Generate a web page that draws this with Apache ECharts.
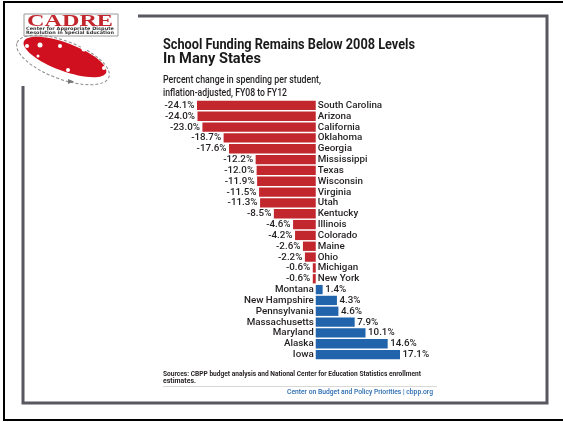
<!DOCTYPE html>
<html><head><meta charset="utf-8">
<script src="https://cdn.jsdelivr.net/npm/echarts@6/dist/echarts.min.js"></script>
<style>html,body{margin:0;padding:0;background:#fff}#c{width:563px;height:422px}</style>
</head><body><div id="c"></div>
<script>
var states = ["South Carolina","Arizona","California","Oklahoma","Georgia","Mississippi","Texas","Wisconsin","Virginia","Utah","Kentucky","Illinois","Colorado","Maine","Ohio","Michigan","New York","Montana","New Hampshire","Pennsylvania","Massachusetts","Maryland","Alaska","Iowa"];
var values = [-24.1,-24.0,-23.0,-18.7,-17.6,-12.2,-12.0,-11.9,-11.5,-11.3,-8.5,-4.6,-4.2,-2.6,-2.2,-0.6,-0.6,1.4,4.3,4.6,7.9,10.1,14.6,17.1];
var titleLines = ["School Funding Remains Below 2008 Levels","In Many States"];
var subtitleLines = ["Percent change in spending per student,","inflation-adjusted, FY08 to FY12"];
var sourceLines = ["Sources: CBPP budget analysis and National Center for Education Statistics enrollment","estimates."];
var creditText = "Center on Budget and Policy Priorities | cbpp.org";

var RED = "#c1272d", BLUE = "#2164ab";
var FAM = "Roboto, 'Liberation Sans', sans-serif";
var LABEL_SIZE = 9.8;

var ctx = document.createElement('canvas').getContext('2d');
function widthOf(text, font){ ctx.font = font; return ctx.measureText(text).width; }

function fitText(text, x, y, font, targetW, color, align){
  var s = targetW / widthOf(text, font);
  return {type:'text', x:x, y:y, scaleX:s, scaleY:1,
    style:{x:0, y:0, text:text, fill:color, font:font, align:align||'left', verticalAlign:'middle'}};
}

function fmt(v){ return v.toFixed(1) + "%"; }

var barData = values.map(function(v){
  return {value:v, itemStyle:{color: v<0?RED:BLUE}, label:{position: v<0?'left':'right'}};
});
var nameData = values.map(function(v){
  return {value:v, label:{position: v<0?'right':'left'}};
});

var chart = echarts.init(document.getElementById('c'), null, {renderer:'canvas'});
chart.setOption({
  animation:false,
  backgroundColor:'#fff',
  grid:{left:197, width:203, top:100, height:260, containLabel:false},
  xAxis:{type:'value', min:-24.1, max:17.1, show:false},
  yAxis:{type:'category', data:states, inverse:true, show:false},
  series:[
    {type:'bar', data:barData, barCategoryGap:'14%', barGap:'-100%',
     label:{show:true, distance:2.5, fontFamily:FAM, fontWeight:500, fontSize:LABEL_SIZE, color:'#231f20',
       formatter:function(p){return fmt(p.value);}}},
    {type:'bar', data:nameData, barCategoryGap:'14%', barGap:'-100%', silent:true,
     itemStyle:{color:'rgba(0,0,0,0)'},
     label:{show:true, distance:2, fontFamily:FAM, fontWeight:500, fontSize:LABEL_SIZE, color:'#231f20',
       formatter:function(p){return p.name;}}}
  ],
  graphic:[
    {type:'rect', z:-10, shape:{x:4,y:2,width:620,height:418}, style:{fill:'none',stroke:'#000',lineWidth:2}},
    {type:'rect', z:-9, shape:{x:23,y:16,width:524,height:387}, style:{fill:'none',stroke:'#59575f',lineWidth:3}},
    {type:'rect', z:-8, shape:{x:10,y:8,width:128,height:78}, style:{fill:'#fff'}},
    // logo
    {type:'rect', shape:{x:24,y:14,width:94,height:22}, style:{fill:'#fff',stroke:'#9a9a9a',lineWidth:1}},
    fitText('CADRE', 70, 21.5, "bold 16px 'Liberation Serif',serif", 86, RED, 'center'),
    fitText('Center for Appropriate Dispute', 70, 29, "bold 4.5px 'DejaVu Sans',sans-serif", 88, '#333', 'center'),
    fitText('Resolution in Special Education', 70, 33, "bold 4.5px 'DejaVu Sans',sans-serif", 88, '#333', 'center'),
    {type:'ellipse', shape:{cx:63,cy:60,rx:49,ry:19}, rotation:-0.36, originX:63, originY:60, style:{fill:'none',stroke:'#8a8a8a',lineWidth:1,lineDash:[3,2]}},
    {type:'ellipse', shape:{cx:65,cy:57,rx:44,ry:14}, rotation:-0.36, originX:65, originY:57, style:{fill:'#d0101e'}},
    {type:'circle', shape:{cx:40,cy:45,r:2.5}, style:{fill:'#fff'}},
    {type:'circle', shape:{cx:27,cy:46,r:2}, style:{fill:'#fff'}},
    {type:'circle', shape:{cx:60,cy:46,r:2}, style:{fill:'#fff'}},
    {type:'circle', shape:{cx:84,cy:49,r:2.5}, style:{fill:'#fff'}},
    {type:'circle', shape:{cx:38,cy:56,r:1.5}, style:{fill:'#fff'}},
    {type:'circle', shape:{cx:68,cy:70,r:2}, style:{fill:'#fff'}},
    {type:'circle', shape:{cx:104,cy:68,r:2}, style:{fill:'#fff'}},
    {type:'polygon', shape:{points:[[68,79],[74,81.5],[68,84]]}, style:{fill:'#777'}},
    // titles
    fitText(titleLines[0], 163, 45, "bold 15px " + FAM, 252, '#1a1a1a'),
    fitText(titleLines[1], 163, 59, "bold 15px " + FAM, 98, '#1a1a1a'),
    fitText(subtitleLines[0], 163, 80, "500 11.5px " + FAM, 158, '#231f20'),
    fitText(subtitleLines[1], 163, 93, "500 11.5px " + FAM, 124, '#231f20'),
    // footer
    fitText(sourceLines[0], 163, 374, "bold 7.5px " + FAM, 258, '#231f20'),
    fitText(sourceLines[1], 163, 381, "bold 7.5px " + FAM, 33, '#231f20'),
    {type:'line', shape:{x1:163,y1:386.5,x2:437,y2:386.5}, style:{stroke:'#d8d8d8',lineWidth:1}},
    fitText(creditText, 433, 392, "500 7.5px " + FAM, 146, '#2a6bb0', 'right')
  ]
});
</script></body></html>
